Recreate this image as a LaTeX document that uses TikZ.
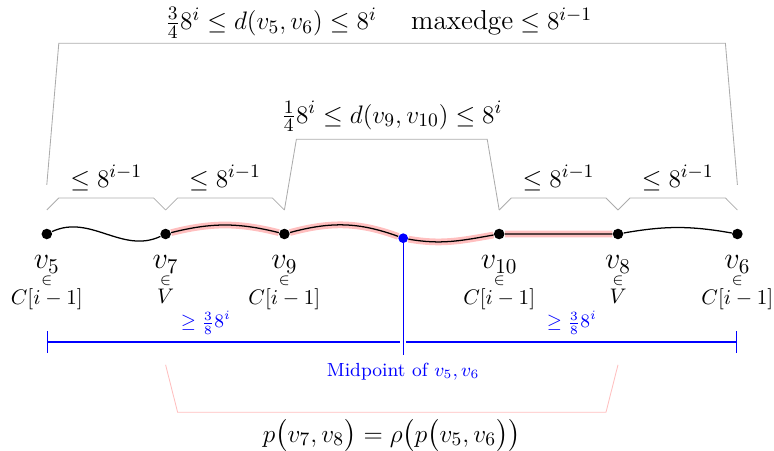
\documentclass[tikz,border=0pt]{standalone}
\usepackage{amsmath,amssymb}
\usetikzlibrary{arrows.meta,positioning,calc}

\begin{document}
\begin{tikzpicture}[
    vtx/.style={circle,fill=black,inner sep=0pt,minimum size=5pt},
    midvtx/.style={circle,fill=blue,inner sep=0pt,minimum size=4.6pt},
    vlab/.style={align=center,inner sep=1pt,font={\Large\baselineskip=0pt\lineskip=1.5pt}},
    brk/.style={gray!65},
    pbrk/.style={pink},
    hl/.style={pink,line width=3.2pt},
    dim/.style={blue,semithick},
    blab/.style={font=\fontsize{12.7pt}{15pt}\selectfont,text=black},
    dlab/.style={font=\fontsize{13pt}{16pt}\selectfont,text=black}
  ]
    \useasboundingbox (-0.78,-3.6) rectangle (12.12,3.9);
    % vertices on p(v5,v6)
    \foreach \i/\x/\s in {5/0/C[i-1],7/1.98/V,9/3.96/C[i-1],10/7.54/C[i-1],8/9.52/V,6/11.51/C[i-1]}{
      \node[vtx] (v\i) at (\x,0) {};
      \node[vlab,below=0.22cm of v\i] (l\i) {$v_{\i}$\\{\scriptsize$\in$}\\{\normalsize$\s$}};
    }
    \node[midvtx] (m) at (5.94,-0.07) {};
    % the kept part p(v7,v8)
    \draw[hl] (v7) to[out=14,in=166] (v9) to[out=15,in=160] (m) to[out=-10,in=190] (v10) -- (v8);
    \draw[semithick] (v5) to[out=25,in=205] (v7) to[out=14,in=166] (v9) to[out=15,in=160] (m)
      to[out=-10,in=190] (v10) -- (v8) to[out=10,in=170] (v6);
    % brackets above
    \foreach \a/\b in {v5/v7,v7/v9,v10/v8,v8/v6}
      \draw[brk] ($(\a)+(0,0.4)$) -- ($(\a)+(0.2,0.6)$) -- node[above,blab] (b\a) {$\le 8^{i-1}$} ($(\b)+(-0.2,0.6)$) -- ($(\b)+(0,0.4)$);
    \draw[brk] ($(v9)+(0,0.4)$) -- ($(v9)+(0.2,1.58)$) -- node[above,dlab] (d910) {$\frac{1}{4}8^i \le d(v_9,v_{10}) \le 8^i$} ($(v10)+(-0.2,1.58)$) -- ($(v10)+(0,0.4)$);
    \draw[brk] ($(v5)+(0,0.82)$) -- ($(v5)+(0.2,3.18)$) -- node[above,dlab,inner sep=2pt,pos=.48] (d56) {$\frac{3}{4}8^i \le d(v_5,v_6) \le 8^i \quad\; \text{maxedge} \le 8^{i-1}$} ($(v6)+(-0.2,3.18)$) -- ($(v6)+(0,0.82)$);
    % midpoint
    \draw[blue,semithick] (m) -- ++(0,-1.95) coordinate (mb) node[below,font=\small] (mtxt) {Midpoint of $v_5,v_6$};
    \coordinate (dm) at (5.94,-1.8);
    \draw[dim,{Bar[width=10pt]}-] ($(v5)+(0,-1.8)$) -- node[above,pos=.45,font=\small] (gl) {$\ge \frac{3}{8}8^i$} ($(dm)+(-0.05,0)$);
    \draw[dim,-{Bar[width=10pt]}] ($(dm)+(0.05,0)$) -- node[above,font=\small] (gr) {$\ge \frac{3}{8}8^i$} ($(v6)+(0,-1.8)$);
    % bracket below
    \draw[pbrk] ($(v7)+(0,-2.18)$) -- ($(v7)+(0.2,-2.97)$) -- node[below,blab] (rho) {$p\bigl(v_7,v_8\bigr) = \rho\bigl(p\bigl(v_5,v_6\bigr)\bigr)$} ($(v8)+(-0.2,-2.97)$) -- ($(v8)+(0,-2.18)$);
\end{tikzpicture}
\end{document}
